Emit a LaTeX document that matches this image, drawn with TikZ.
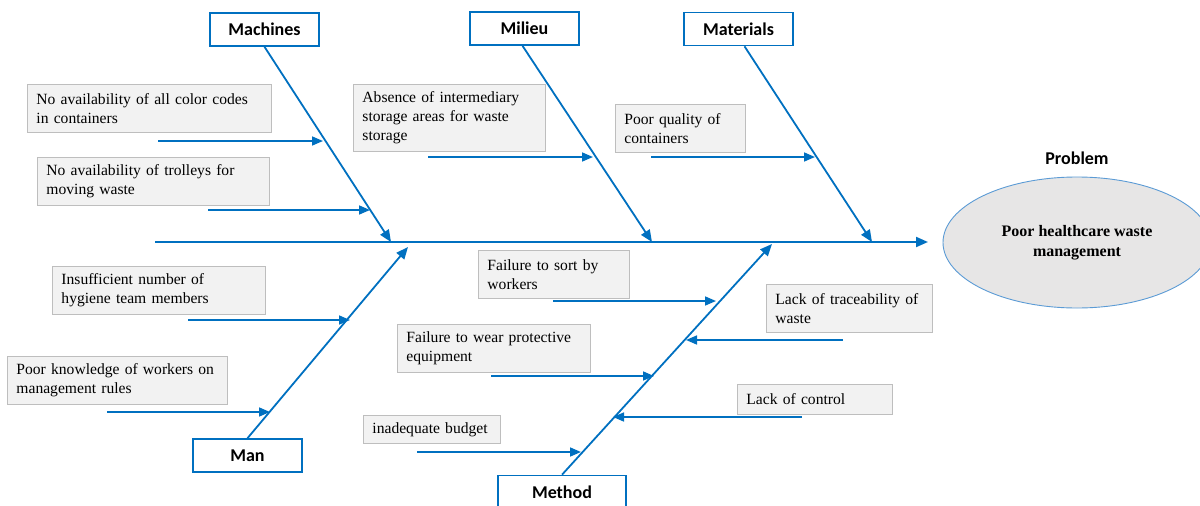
\documentclass[tikz,border=0pt]{standalone}
\usepackage{fontspec}
\setmainfont{Liberation Serif}
\newfontfamily\catfont{Carlito}
\usetikzlibrary{arrows.meta,shapes.geometric}
\definecolor{FishBlue}{RGB}{0,112,192}
\definecolor{CauseFill}{RGB}{242,242,242}
\definecolor{CauseEdge}{RGB}{190,190,190}
\definecolor{HeadFill}{RGB}{231,230,230}
\definecolor{HeadEdge}{RGB}{91,155,213}
\tikzset{
  category/.style={draw=FishBlue,line width=1.6pt,fill=white,minimum width=109pt,
    minimum height=33pt,inner sep=0pt,font=\catfont\bfseries\fontsize{18}{20}\selectfont},
  cause/.style 2 args={draw=CauseEdge,fill=CauseFill,line width=0.9pt,anchor=north west,
    align=left,inner xsep=9pt,inner ysep=0pt,text width=#1,minimum height=#2,
    font=\fontsize{15.6}{19}\selectfont},
  bone/.style={FishBlue,line width=1.8pt,-{Triangle[length=12pt,width=10pt]}},
  twig/.style={FishBlue,line width=1.6pt,-{Triangle[length=11pt,width=9pt]}}
}

\begin{document}
\begin{tikzpicture}[x=1pt,y=-1pt]
  \useasboundingbox (0,0) rectangle (1200,506);
  % head of the fish
  \node[ellipse,draw=HeadEdge,line width=0.9pt,fill=HeadFill,minimum width=268pt,
    minimum height=131pt,inner sep=0pt,align=center,
    font=\bfseries\fontsize{16}{20}\selectfont] (problem) at (1077,242.5)
    {Poor healthcare waste\\management};
  \node[font=\catfont\bfseries\fontsize{18}{20}\selectfont] (problemlabel) at (1077,158) {Problem};
  % categories
  \node[category] (machines) at (264.5,29.5) {Machines};
  \node[category] (milieu) at (524.5,28.5) {Milieu};
  \node[category] (materials) at (738.5,29) {Materials};
  \node[category] (man) at (247.5,455.5) {Man};
  \node[category,minimum width=128pt] (method) at (562,492) {Method};
  % spine and bones
  \coordinate (spinestart) at (155,242);
  \coordinate (spineend) at (928,242);
  \draw[bone,line width=2pt] (spinestart) -- (spineend);
  \coordinate (machtip) at (391,242);
  \coordinate (milieutip) at (652,242);
  \coordinate (mattip) at (872,242);
  \coordinate (mantip) at (408,247);
  \coordinate (methodtip) at (772,244);
  \draw[bone] (machines.south) -- (machtip);
  \draw[bone] ([xshift=-2pt]milieu.south) -- (milieutip);
  \draw[bone] ([xshift=6pt]materials.south) -- (mattip);
  \draw[bone] (man.north) -- (mantip);
  \draw[bone] (method.north) -- (methodtip);
  % causes
  \node[cause={226pt}{48pt}] (colorcodes) at (27,84) {No availability of all color codes\\in containers};
  \node[cause={214pt}{48pt}] (trolleys) at (37,157) {No availability of trolleys for\\moving waste};
  \node[cause={174pt}{67pt}] (storage) at (353,84) {Absence of intermediary\\storage areas for waste\\storage};
  \node[cause={112pt}{48pt}] (quality) at (615,104) {Poor quality of\\containers};
  \node[cause={195pt}{48pt}] (hygiene) at (52,266) {Insufficient number of\\hygiene team members};
  \node[cause={202pt}{48pt}] (knowledge) at (7,356) {Poor knowledge of workers on\\management rules};
  \node[cause={133pt}{48pt}] (sorting) at (478,250) {Failure to sort by\\workers};
  \node[cause={148pt}{48pt}] (traceability) at (766,284) {Lack of traceability of\\waste};
  \node[cause={175pt}{48pt}] (protection) at (397,324) {Failure to wear protective\\equipment};
  \node[cause={137pt}{30pt}] (control) at (737,384) {Lack of control};
  \node[cause={119pt}{28pt}] (budget) at (363,415) {inadequate budget};
  % small arrows onto the bones
  \foreach \n/\a/\b/\y in {colorcodes/158/323/141, trolleys/208/370/210, storage/428/593/157,
      quality/651/815/157, hygiene/188/350/320, knowledge/107/270/412, sorting/553/716/301,
      traceability/843/686/340, protection/491/654/376, control/802/613/417, budget/417/581/452}{
    \coordinate (\n-from) at (\a,\y);
    \coordinate (\n-to) at (\b,\y);
    \draw[twig] (\n-from) -- (\n-to);
  }
\end{tikzpicture}
\end{document}
